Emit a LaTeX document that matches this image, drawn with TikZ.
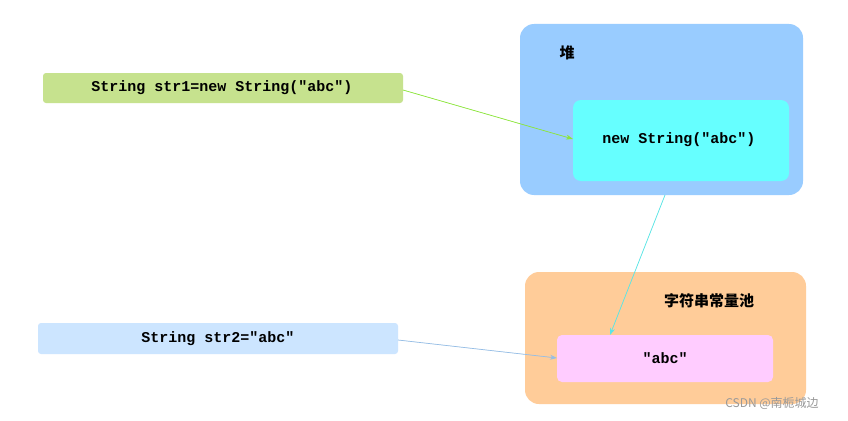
\documentclass[tikz,border=0pt]{standalone}
\usepackage{fontspec}
\usetikzlibrary{arrows.meta}
\setmonofont{Liberation Mono}
\newfontfamily\cjk{Noto Sans CJK SC}
\begin{document}
\begin{tikzpicture}[x=1pt,y=-1pt,
  lbl/.style={font=\ttfamily\bfseries\fontsize{15}{18}\selectfont},
  arr/.style={-{Stealth[length=7pt,width=5pt]},line width=0.7pt}]
\useasboundingbox[fill=white] (0,0) rectangle (848,420);
\fill[rounded corners=14, fill={rgb,255:red,153;green,204;blue,255}] (520,24) rectangle (803,195);
\node[font=\cjk\bfseries\fontsize{15}{18}\selectfont] (heaplbl) at (567,53) {堆};
\fill[rounded corners=8, fill={rgb,255:red,102;green,255;blue,255}] (573,100) rectangle (789,181);
\node[lbl] (newstr) at (679,140) {new String("abc")};
\coordinate (newin) at (573,139);
\coordinate (newout) at (665,195);
\fill[rounded corners=14, fill={rgb,255:red,255;green,204;blue,153}] (525,272) rectangle (806,404);
\node[font=\cjk\bfseries\fontsize{15}{18}\selectfont] (poollbl) at (709,301) {字符串常量池};
\fill[rounded corners=5, fill={rgb,255:red,255;green,204;blue,255}] (557,335) rectangle (773,382);
\node[lbl] (abc) at (665,358) {"abc"};
\coordinate (abctop) at (610,335);
\coordinate (abcin) at (557,358);
\fill[rounded corners=3, fill={rgb,255:red,198;green,226;blue,142}] (43,73) rectangle (403,103);
\node[lbl] (s1) at (222,88) {String str1=new String("abc")};
\coordinate (s1out) at (403,90);
\fill[rounded corners=3, fill={rgb,255:red,204;green,229;blue,255}] (38,323) rectangle (398,354);
\node[lbl] (s2) at (218,339) {String str2="abc"};
\coordinate (s2out) at (398,340);
\draw[arr,draw={rgb,255:red,140;green,230;blue,60},fill={rgb,255:red,140;green,230;blue,60}] (s1out) -- (newin);
\draw[arr,draw={rgb,255:red,90;green,230;blue,230},fill={rgb,255:red,90;green,230;blue,230}] (newout) -- (abctop);
\draw[arr,draw={rgb,255:red,150;green,190;blue,230},fill={rgb,255:red,150;green,190;blue,230}] (s2out) -- (abcin);
\node[font=\cjk\fontsize{12}{14}\selectfont,text=gray!80] (wm) at (772,403) {CSDN @南栀城边};
\end{tikzpicture}
\end{document}
